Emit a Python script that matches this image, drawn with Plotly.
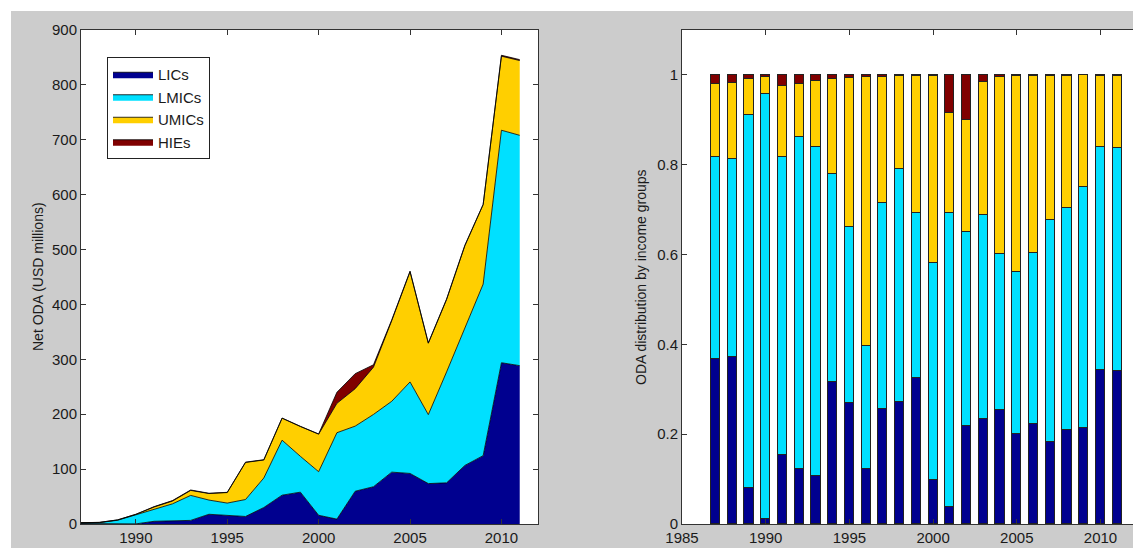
import plotly.graph_objects as go

years = list(range(1987, 2012))
LIC = [0.9, 1.1, 0.6, 0.2, 4.9, 5.2, 6.6, 17.7, 15.5, 13.7, 30.0, 52.5, 58.0, 15.9, 8.9,
       59.7, 67.9, 94.5, 92.1, 73.6, 75.0, 106.7, 124.5, 293.8, 288.5]
LMIC = [1.1, 1.3, 6.2, 16.7, 21.0, 31.5, 45.5, 25.9, 22.6, 30.9, 53.8, 100.2, 65.3, 79.4, 157.4,
        118.6, 131.7, 129.1, 166.7, 125.7, 202.1, 250.4, 312.5, 423.6, 419.6]
UMIC = [0.4, 0.5, 0.6, 0.7, 5.0, 5.0, 9.1, 11.9, 19.2, 67.6, 32.8, 40.0, 54.3, 68.4, 53.5,
        68.2, 86.1, 146.9, 200.9, 130.0, 132.0, 149.9, 145.0, 134.9, 136.2]
HIE = [0.05, 0.05, 0.07, 0.07, 0.8, 0.9, 0.8, 0.5, 0.4, 0.45, 0.5, 0.4, 0.4, 0.3, 20.2,
       27.4, 4.4, 1.5, 0.9, 0.7, 0.8, 1.0, 0.3, 1.7, 1.7]

names = ["LICs", "LMICs", "UMICs", "HIEs"]
colors = ["#00008f", "#00e0ff", "#ffcf00", "#800000"]
series = [LIC, LMIC, UMIC, HIE]

left_xticks = [1990, 1995, 2000, 2005, 2010]
left_yticks = list(range(0, 901, 100))
right_xticks = [1985, 1990, 1995, 2000, 2005, 2010]
right_yticks = [0, 0.2, 0.4, 0.6, 0.8, 1.0]
right_yticklabels = ["0", "0.2", "0.4", "0.6", "0.8", "1"]

totals = [sum(v) for v in zip(*series)]

# page has an 8px body margin; size the figure so it fits the window exactly
OFF = 8
W, H = 1141 - OFF, 548 - OFF
FONT = "Liberation Sans, Arial, sans-serif"
fig = go.Figure()

for name, col, vals in zip(names, colors, series):
    fig.add_trace(go.Scatter(
        x=years, y=vals, name=name, mode="lines", stackgroup="one",
        line=dict(color="black", width=0.8), fillcolor=col,
        xaxis="x", yaxis="y", showlegend=True))

for name, col, vals in zip(names, colors, series):
    shares = [v / t for v, t in zip(vals, totals)]
    fig.add_trace(go.Bar(
        x=years, y=shares, name=name, marker=dict(color=col, line=dict(color="#222", width=1)),
        width=0.55, xaxis="x2", yaxis="y2", showlegend=False))


def px(x):
    return (x - OFF) / W


def py(y):
    return 1 - (y - OFF) / H


axis_common = dict(showline=True, linecolor="#333", linewidth=1, mirror="ticks",
                   ticks="inside", ticklen=5, tickcolor="#333", showgrid=False,
                   zeroline=False, automargin=False,
                   tickfont=dict(family=FONT, size=15, color="#1a1a1a"))

fig.update_layout(
    width=W, height=H,
    margin=dict(l=0, r=0, t=0, b=0),
    paper_bgcolor="#cccccc", plot_bgcolor="white",
    barmode="stack", bargap=0,
    font=dict(family=FONT, size=15, color="#1a1a1a"),
    xaxis=dict(domain=[px(81), px(538)], range=[1987, 2012], tickvals=left_xticks,
               anchor="y", **axis_common),
    yaxis=dict(domain=[py(524), py(30)], range=[0, 900], tickvals=left_yticks,
               anchor="x", **axis_common),
    xaxis2=dict(domain=[px(682), min(1.0, px(1139))], range=[1985, 2012.3], tickvals=right_xticks,
                anchor="y2", **axis_common),
    yaxis2=dict(domain=[py(524), py(30)], range=[0, 1.1], tickvals=right_yticks,
                ticktext=right_yticklabels, anchor="x2", **axis_common),
    legend=dict(x=px(107), y=py(57), xanchor="left", yanchor="top",
                bgcolor="white", bordercolor="#222", borderwidth=1,
                font=dict(family=FONT, size=15, color="#1a1a1a"),
                tracegroupgap=0, traceorder="normal", itemwidth=40),
    shapes=[
        dict(type="rect", xref="paper", yref="paper", x0=0, x1=1, y0=py(11), y1=1,
             fillcolor="white", line=dict(width=0), layer="below"),
        dict(type="rect", xref="paper", yref="paper", x0=0, x1=px(11), y0=0, y1=1,
             fillcolor="white", line=dict(width=0), layer="below"),
    ],
    annotations=[
        dict(text="Net ODA (USD millions)", x=px(38), y=py(277), xref="paper", yref="paper",
             textangle=-90, showarrow=False, font=dict(family=FONT, size=14, color="#1a1a1a"),
             xanchor="center", yanchor="middle"),
        dict(text="ODA distribution by income groups", x=px(641), y=py(277), xref="paper",
             yref="paper", textangle=-90, showarrow=False,
             font=dict(family=FONT, size=14, color="#1a1a1a"),
             xanchor="center", yanchor="middle"),
    ],
)

fig.write_html("out.html")
